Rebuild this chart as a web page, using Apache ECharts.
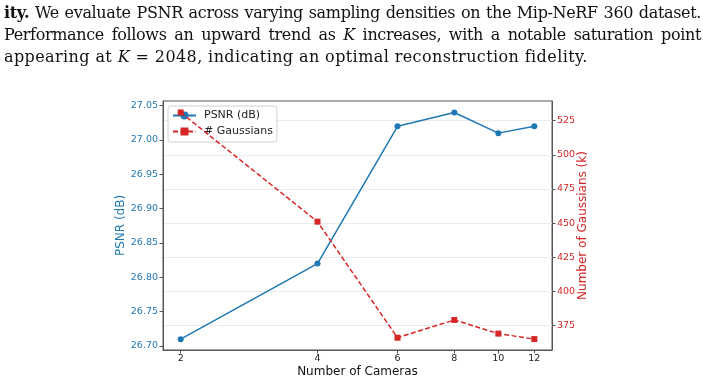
<!DOCTYPE html>
<html>
<head>
<meta charset="utf-8">
<script src="https://cdn.jsdelivr.net/npm/echarts@6/dist/echarts.min.js"></script>
<style>
  html, body { margin: 0; padding: 0; background: #fff; }
  #wrap { position: relative; width: 703px; height: 383px; overflow: hidden; }
  #chart { position: absolute; left: 0; top: 0; width: 703px; height: 383px; }
  .cap {
    position: absolute; left: 4px; width: 697px;
    font-family: "DejaVu Serif", "Liberation Serif", serif;
    font-size: 16px; line-height: 22px; color: #111; white-space: nowrap;
  }
  .just { text-align: justify; text-align-last: justify; letter-spacing: -0.35px; }
</style>
</head>
<body>
<div id="wrap">
  <div id="chart"></div>
  <div class="cap just" style="top:2px"><b>ity.</b> We evaluate PSNR across varying sampling densities on the Mip-NeRF 360 dataset.</div>
  <div class="cap just" style="top:24px">Performance follows an upward trend as <i>K</i> increases, with a notable saturation point</div>
  <div class="cap" style="top:46px; letter-spacing:0.4px">appearing at <i>K</i> = 2048, indicating an optimal reconstruction fidelity.</div>
</div>
<script>
// data
const cameras = [2, 4, 6, 8, 10, 12]
const psnr = [26.71, 26.82, 27.02, 27.04, 27.01, 27.02]
const gaussians = [531, 451, 366, 379, 369, 365]

// tick labels
const cameraTicks = [2, 4, 6, 8, 10, 12]
const psnrTicks = [26.70, 26.75, 26.80, 26.85, 26.90, 26.95, 27.00, 27.05]
const gaussTicks = [375, 400, 425, 450, 475, 500, 525]

const blue = '#1f77b4'
const red = '#d62728'
const frame = '#555'
const font = '"DejaVu Sans", sans-serif'

const chart = echarts.init(document.getElementById('chart'), null, { renderer: 'canvas' })

const option = {
  animation: false,
  textStyle: { fontFamily: font },
  grid: {
    left: 163, right: 151, top: 101, bottom: 33,
    show: true, borderColor: frame, borderWidth: 1, backgroundColor: 'transparent'
  },
  legend: {
    orient: 'vertical',
    left: 168, top: 106,
    padding: [4, 4, 5, 4],
    itemGap: 5,
    itemWidth: 23, itemHeight: 10,
    backgroundColor: 'rgba(255,255,255,0.8)',
    borderColor: '#d0d0d0', borderWidth: 1, borderRadius: 3,
    textStyle: { fontFamily: font, fontSize: 11, color: '#222', padding: [0, 0, 0, 3] },
    data: ['PSNR (dB)', '# Gaussians']
  },
  xAxis: {
    type: 'log',
    logBase: 2,
    min: 1.8286,
    max: 13.124,
    name: 'Number of Cameras',
    nameLocation: 'middle',
    nameGap: 16,
    nameMoveOverlap: false,
    nameTextStyle: { fontFamily: font, fontSize: 12, color: '#111' },
    axisLine: { show: true, lineStyle: { color: frame, width: 1 } },
    axisTick: { show: true, length: 3.5, inside: false, customValues: cameraTicks, lineStyle: { color: frame } },
    axisLabel: { customValues: cameraTicks, fontFamily: font, fontSize: 9.5, color: '#222', margin: 4 },
    splitLine: { show: false },
    minorTick: { show: false },
    minorSplitLine: { show: false }
  },
  yAxis: [
    {
      type: 'value',
      position: 'left',
      min: 26.6942,
      max: 27.0568,
      name: 'PSNR (dB)',
      nameLocation: 'middle',
      nameRotate: 90,
      nameGap: 36,
      nameMoveOverlap: false,
      nameTextStyle: { fontFamily: font, fontSize: 12, color: blue },
      axisLine: { show: true, lineStyle: { color: frame, width: 1 } },
      axisTick: { show: true, length: 3.5, customValues: psnrTicks, lineStyle: { color: frame } },
      axisLabel: {
        customValues: psnrTicks, fontFamily: font, fontSize: 9.5, color: blue, margin: 5,
        formatter: v => v.toFixed(2)
      },
      splitLine: { show: false }
    },
    {
      type: 'value',
      position: 'right',
      min: 357.0,
      max: 539.4,
      name: 'Number of Gaussians (k)',
      nameLocation: 'middle',
      nameRotate: 90,
      nameGap: 25,
      nameMoveOverlap: false,
      nameTextStyle: { fontFamily: font, fontSize: 12, color: red },
      axisLine: { show: true, lineStyle: { color: frame, width: 1 } },
      axisTick: { show: true, length: 3.5, customValues: gaussTicks, lineStyle: { color: frame } },
      axisLabel: { customValues: gaussTicks, fontFamily: font, fontSize: 9.5, color: red, margin: 5 },
      splitLine: { show: true, lineStyle: { color: '#ebebeb', width: 1 } }
    }
  ],
  series: [
    {
      name: 'PSNR (dB)',
      type: 'line',
      yAxisIndex: 0,
      data: cameras.map((c, i) => [c, psnr[i]]),
      symbol: 'circle',
      symbolSize: 6,
      lineStyle: { color: blue, width: 1.5 },
      itemStyle: { color: blue },
      z: 3
    },
    {
      name: '# Gaussians',
      type: 'line',
      yAxisIndex: 1,
      data: cameras.map((c, i) => [c, gaussians[i]]),
      symbol: 'rect',
      symbolSize: 6,
      lineStyle: { color: red, width: 1.5, type: [5, 2.5] },
      itemStyle: { color: red },
      z: 4
    }
  ]
}

chart.setOption(option)
</script>
</body>
</html>
